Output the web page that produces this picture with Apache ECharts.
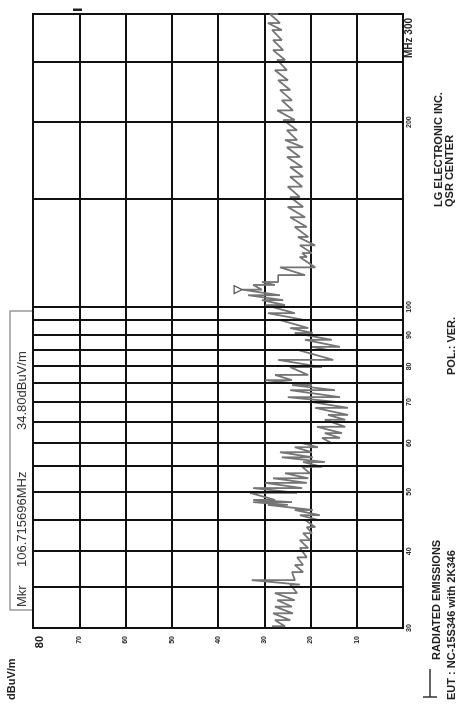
<!DOCTYPE html>
<html>
<head>
<meta charset="utf-8">
<title>Radiated Emissions</title>
<script src="https://cdn.jsdelivr.net/npm/echarts@6.0.0/dist/echarts.min.js"></script>
<style>
  html, body { margin: 0; padding: 0; background: #fff; overflow: hidden; }
  /* the plot is drawn landscape and turned a quarter turn, like the scanned sheet */
  #emiChart {
    position: absolute;
    left: 0;
    top: 0;
    width: 705px;
    height: 475px;
    transform-origin: 0 0;
    transform: translateY(705px) rotate(-90deg);
  }
</style>
</head>
<body>
<div id="emiChart"></div>
<script>
  // frequency of each reading (MHz) with the upper and lower edge of the noisy trace (dBuV/m)
  const freqMHz = [30.2, 30.9, 31.7, 32.5, 33.3, 34.2, 35.3, 35.9, 37, 38, 39.1, 40.5, 41.7, 42.8, 43.8,
    45, 45.8, 46.7, 47.6, 48.1, 48.5, 49.8, 50.7, 51.7, 52.6, 53.6, 54.9, 55.9, 56.9, 58, 59.1, 60,
    61.2, 62.3, 63.8, 65.5, 66.7, 68.5, 70, 71.3, 73.2, 74.6, 76, 77.5, 79.8, 82, 85.1, 86.1, 88.4,
    90.7, 92.4, 95.2, 97.7, 100.7, 102.6, 104.5, 106.7, 108.6, 109.8, 112.7, 116, 120.6, 122.4, 126,
    130, 135, 140, 145.5, 151, 157, 163, 169, 175.5, 182, 187, 194, 201.6, 209, 217, 225.6, 234, 243,
    252.5, 262, 272, 282.5, 290, 300];
  const levelHi = [28.3, 27.7, 28.1, 27.7, 27.2, 27.7, 24.4, 32.7, 24.0, 23.4, 22.9, 22.3, 22.3, 21.6, 20.8,
    21.2, 22.3, 23.4, 29.2, 32.4, 32.4, 33.1, 32.4, 29.8, 28.1, 25.5, 21.8, 21.6, 26.2, 26.6, 23.4, 21.8,
    17.5, 16.9, 18.6, 16.9, 16.2, 19.0, 19.7, 24.9, 24.4, 24.0, 29.8, 27.7, 24.4, 27.0, 22.7, 19.7, 21.2,
    23.4, 24.4, 26.6, 29.2, 29.8, 30.5, 33.5, 34.8, 32.4, 30.5, 27.0, 26.6, 22.3, 21.8, 22.3,
    22.7, 23.4, 24.4, 24.9, 24.4, 24.9, 24.4, 24.4, 25.1, 25.1, 25.5, 25.1, 25.9, 27.2, 26.2, 26.6, 27.0, 27.7,
    27.2, 28.1, 28.1, 28.3, 29.2, 28.8];
  const levelLo = [25.5, 24.4, 23.8, 24.0, 23.4, 22.9, 22.3, 23.4, 21.6, 21.6, 20.8, 20.5, 20.1, 19.7, 19.0,
    18.4, 18.0, 19.5, 24.9, 24.0, 27.7, 22.9, 21.8, 20.8, 20.5, 20.1, 17.5, 16.9, 19.5, 19.7, 18.4, 15.4,
    13.6, 13.2, 12.5, 12.5, 11.9, 11.9, 14.1, 13.6, 14.7, 19.7, 24.0, 20.5, 17.5, 15.1, 16.2, 13.6, 15.4,
    19.5, 20.5, 21.2, 23.4, 25.5, 25.9, 26.6, 30.5, 27.7, 27.0, 21.2, 19.0, 20.8, 19.7, 19.0,
    20.5, 20.8, 21.2, 21.6, 22.3, 21.8, 21.6, 21.8, 22.3, 21.6, 22.9, 22.9, 23.4, 23.8, 24.0, 24.4, 24.9, 25.1,
    25.5, 25.9, 26.2, 26.2, 26.6, 27.0];

  // grid lines and labels of the frequency axis
  const freqGrid = [35, 40, 45, 50, 55, 60, 65, 70, 75, 80, 85, 90, 95, 100, 150, 200, 250];
  const freqLabels = [30, 40, 50, 60, 70, 80, 90, 100, 200, 300];

  // marker
  const markerFreq = 106.715696;
  const markerLevel = 34.8;

  const fontFamily = '"Liberation Sans", Arial, sans-serif';

  // zig-zag between upper and lower edge, like a peak detector sweep
  const traceData = [];
  freqMHz.forEach((f, i) => {
    traceData.push([f, levelHi[i]]);
    traceData.push([f, levelLo[i]]);
  });

  function textEl(x, y, text, font, fill) {
    return {
      type: 'text',
      x: x,
      y: y,
      style: { text: text, font: font, fill: fill || '#222', verticalAlign: 'middle' }
    };
  }

  const myChart = echarts.init(document.getElementById('emiChart'));

  const option = {
    animation: false,
    backgroundColor: '#fff',
    grid: {
      left: 77,
      right: 14,
      top: 33,
      bottom: 72,
      show: true,
      borderColor: '#111',
      borderWidth: 2,
      outerBoundsMode: 'none'
    },
    xAxis: {
      type: 'log',
      logBase: 10,
      min: 30,
      max: 300,
      axisLine: { show: false },
      axisTick: { show: false },
      splitLine: { show: false },
      axisLabel: {
        customValues: freqLabels,
        margin: 3,
        fontFamily: fontFamily,
        fontWeight: 'bold',
        fontSize: 7,
        color: '#222',
        formatter: function (v) {
          return v === 300 ? '' : String(v);
        }
      }
    },
    yAxis: {
      type: 'value',
      min: 0,
      max: 80,
      interval: 10,
      axisLine: { show: false },
      axisTick: { show: false },
      splitLine: { lineStyle: { color: '#111', width: 2 } },
      axisLabel: {
        margin: 8,
        formatter: function (v) {
          if (v === 0) return '';
          return v === 80 ? '{top|80}' : '{tick|' + v + '}';
        },
        rich: {
          top: { fontFamily: fontFamily, fontWeight: 'bold', fontSize: 11, color: '#222', padding: [14, 0, 0, 0] },
          tick: { fontFamily: fontFamily, fontWeight: 'bold', fontSize: 7, color: '#222' }
        }
      }
    },
    series: [{
      name: 'trace',
      type: 'line',
      data: traceData,
      showSymbol: false,
      symbol: 'none',
      lineStyle: { color: '#757575', width: 1.8 },
      silent: true,
      markLine: {
        silent: true,
        symbol: ['none', 'none'],
        label: { show: false },
        lineStyle: { color: '#111', width: 2, type: 'solid' },
        emphasis: { disabled: true },
        data: freqGrid.map(f => ({ xAxis: f }))
      },
      markPoint: {
        silent: true,
        symbol: 'triangle',
        symbolSize: 8,
        symbolRotate: 180,
        symbolOffset: [0, -4],
        itemStyle: { color: '#fff', borderColor: '#555', borderWidth: 1.2 },
        label: { show: false },
        data: [{ coord: [markerFreq, markerLevel] }]
      }
    }],
    graphic: [
      textEl(5, 12, 'dBuV/m', 'bold 11px ' + fontFamily),
      {
        type: 'rect',
        shape: { x: 95, y: 10, width: 299, height: 23 },
        style: { fill: 'none', stroke: '#999', lineWidth: 1.5 }
      },
      textEl(98, 22, 'Mkr', '13px ' + fontFamily, '#333'),
      textEl(138, 22, '106.715696MHz', '13px ' + fontFamily, '#333'),
      textEl(275, 22, '34.80dBuV/m', '13px ' + fontFamily, '#333'),
      textEl(647, 409, 'MHz 300', 'bold 10px ' + fontFamily),
      {
        type: 'rect',
        shape: { x: 694, y: 73, width: 2.5, height: 9 },
        style: { fill: '#222' }
      },
      {
        type: 'line',
        shape: { x1: 8, y1: 430, x2: 36, y2: 430 },
        style: { stroke: '#333', lineWidth: 1.5 }
      },
      {
        type: 'line',
        shape: { x1: 8, y1: 423, x2: 8, y2: 437 },
        style: { stroke: '#333', lineWidth: 1.5 }
      },
      textEl(45, 437, 'RADIATED EMISSIONS', 'bold 11px ' + fontFamily),
      textEl(5, 452, 'EUT : NC-15S346 with 2K346', 'bold 11px ' + fontFamily),
      textEl(330, 452, 'POL.: VER.', 'bold 11px ' + fontFamily),
      textEl(498, 439, 'LG ELECTRONIC INC.', 'bold 11px ' + fontFamily),
      textEl(498, 450, 'QSR CENTER', 'bold 11px ' + fontFamily)
    ]
  };

  myChart.setOption(option);
</script>
</body>
</html>
